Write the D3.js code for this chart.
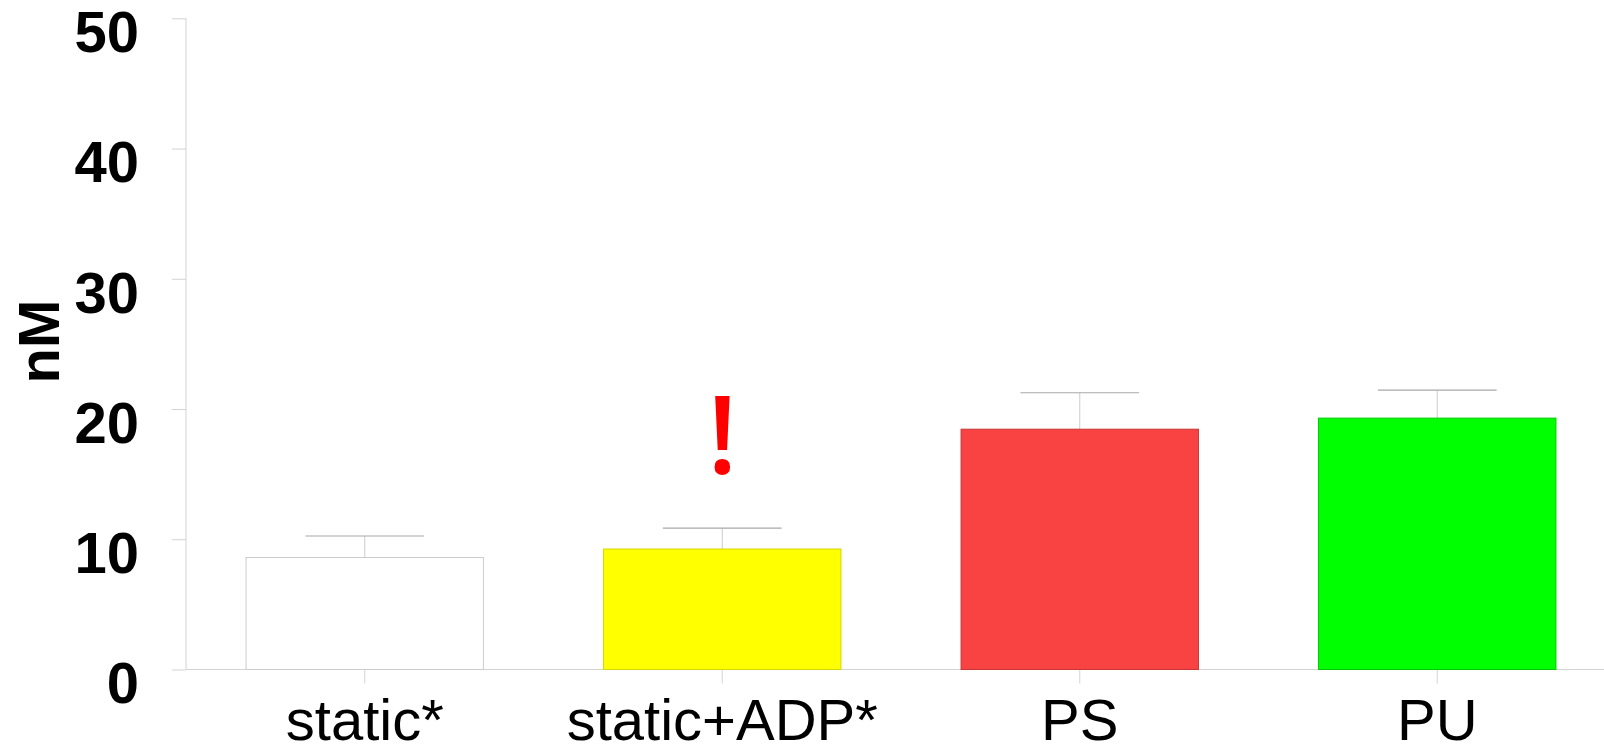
<!DOCTYPE html>
<html>
<head>
<meta charset="utf-8">
<script src="https://cdn.jsdelivr.net/npm/d3@7"></script>
<style>
  html, body { margin: 0; padding: 0; background: #ffffff; }
  svg { display: block; }
</style>
</head>
<body>
<svg id="chart" width="1604" height="745"></svg>
<script>
// ---- data ----
const categories = ["static*", "static+ADP*", "PS", "PU"];
const means = [8.6, 9.25, 18.45, 19.3];
const errors = [1.65, 1.6, 2.8, 2.15];
const fills = ["#ffffff", "#ffff00", "#f94343", "#00ff00"];
const strokes = ["#cccccc", "#d6d600", "#c83535", "#00c800"];
const yTicks = [0, 10, 20, 30, 40, 50];
const yLabel = "nM";
const annotation = { category: "static+ADP*", text: "!", value: 15 };

// ---- layout ----
const svg = d3.select("#chart");
const W = 1604, H = 745;
const x0 = 186, yBottom = 669.5, yTop = 18.3;
const font = "'Liberation Sans', Arial, sans-serif";

const x = d3.scaleBand().domain(categories).range([x0, 1616]).paddingInner(0.336).paddingOuter(0.168);
const y = d3.scaleLinear().domain([0, 50]).range([yBottom, yTop]);

svg.append("rect").attr("width", W).attr("height", H).attr("fill", "#fff");

// y axis
const yAxis = svg.append("g").attr("transform", `translate(${x0},0)`)
  .call(d3.axisLeft(y).tickValues(yTicks).tickSize(14).tickFormat(d3.format("d")));
yAxis.select(".domain").remove();
yAxis.selectAll(".tick line").attr("stroke", "#d3d3d3");
yAxis.selectAll(".tick text")
  .attr("x", -47).attr("dy", null).attr("y", 33.4)
  .attr("fill", "#000").attr("font-family", font).attr("font-weight", "bold")
  .attr("font-size", 58).attr("text-anchor", "end");
svg.append("line").attr("x1", x0).attr("x2", x0).attr("y1", yTop).attr("y2", yBottom)
  .attr("stroke", "#d3d3d3");

// x axis
const xAxis = svg.append("g").attr("transform", `translate(0,${yBottom})`)
  .call(d3.axisBottom(x).tickSize(14));
xAxis.select(".domain").remove();
xAxis.selectAll(".tick line").attr("stroke", "#d3d3d3");
xAxis.selectAll(".tick text")
  .attr("dy", null).attr("y", 70.5)
  .attr("fill", "#000").attr("font-family", font)
  .attr("font-size", 58).attr("text-anchor", "middle");
svg.append("line").attr("x1", x0).attr("x2", W).attr("y1", yBottom).attr("y2", yBottom)
  .attr("stroke", "#d3d3d3");

// error bars (whiskers behind bars)
const data = categories.map((c, i) => ({ c, m: means[i], e: errors[i], f: fills[i], s: strokes[i] }));
svg.append("g").selectAll("line").data(data).join("line")
  .attr("x1", d => x(d.c) + x.bandwidth() / 2).attr("x2", d => x(d.c) + x.bandwidth() / 2)
  .attr("y1", d => y(d.m)).attr("y2", d => y(d.m + d.e))
  .attr("stroke", "#cccccc").attr("stroke-width", 1);
svg.append("g").selectAll("line").data(data).join("line")
  .attr("x1", d => x(d.c) + x.bandwidth() * 0.25).attr("x2", d => x(d.c) + x.bandwidth() * 0.75)
  .attr("y1", d => y(d.m + d.e)).attr("y2", d => y(d.m + d.e))
  .attr("stroke", "#a8a8a8").attr("stroke-width", 1.2);

// bars
svg.append("g").selectAll("rect").data(data).join("rect")
  .attr("x", d => x(d.c)).attr("width", x.bandwidth())
  .attr("y", d => y(d.m)).attr("height", d => y(0) - y(d.m))
  .attr("fill", d => d.f).attr("stroke", d => d.s).attr("stroke-width", 1);

// annotation
svg.append("text")
  .attr("x", x(annotation.category) + x.bandwidth() / 2)
  .attr("y", y(annotation.value))
  .attr("text-anchor", "middle").attr("fill", "#ff0000")
  .attr("font-family", "'Open Sans', sans-serif").attr("font-weight", 600)
  .attr("font-size", 108).text(annotation.text);

// y label
svg.append("text")
  .attr("transform", `translate(59,341.5) rotate(-90)`)
  .attr("text-anchor", "middle").attr("fill", "#000")
  .attr("font-family", font).attr("font-weight", "bold").attr("font-size", 58)
  .text(yLabel);
</script>
</body>
</html>
